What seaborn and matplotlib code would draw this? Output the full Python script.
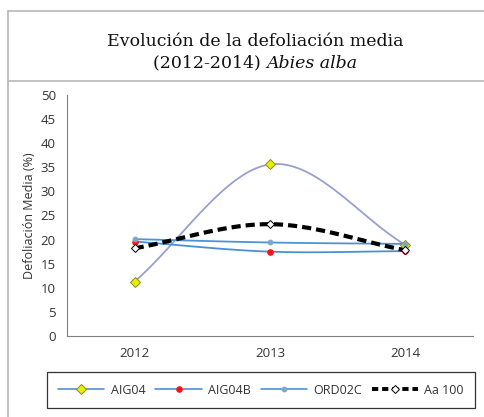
import numpy as np
import pandas as pd
import matplotlib
matplotlib.use("Agg")
import matplotlib.pyplot as plt
from matplotlib.lines import Line2D
import seaborn as sns

# Mean defoliation per plot, Abies alba
years = ["2012", "2013", "2014"]
aig04 = [11.3, 35.6, 18.9]
aig04b = [19.6, 17.5, 17.6]
ord02c = [20.1, 19.4, 19.1]
aa100 = [18.2, 23.2, 17.8]
series_names = ["AIG04", "AIG04B", "ORD02C", "Aa 100"]
y_ticks = list(range(0, 51, 5))

sns.set_style("white")
plt.rcParams["font.family"] = ["Open Sans", "DejaVu Sans"]

fig = plt.figure(figsize=(4.84, 4.17), dpi=100)
ax = fig.add_axes([67 / 484, 1 - 336 / 417, (473 - 67) / 484, (336 - 95) / 417])


def smooth(xs, ys, n=40):
    """Catmull-Rom curve through the points, like a smoothed Excel line."""
    xs = np.asarray(xs, float)
    ys = np.asarray(ys, float)
    px = np.concatenate([[2 * xs[0] - xs[1]], xs, [2 * xs[-1] - xs[-2]]])
    py = np.concatenate([[2 * ys[0] - ys[1]], ys, [2 * ys[-1] - ys[-2]]])
    ox, oy = [], []
    for i in range(1, len(px) - 2):
        t = np.linspace(0, 1, n)
        for p, out in ((px, ox), (py, oy)):
            p0, p1, p2, p3 = p[i - 1], p[i], p[i + 1], p[i + 2]
            out.extend(0.5 * ((2 * p1) + (-p0 + p2) * t
                              + (2 * p0 - 5 * p1 + 4 * p2 - p3) * t ** 2
                              + (-p0 + 3 * p1 - 3 * p2 + p3) * t ** 3))
    return np.array(ox), np.array(oy)


xpos = np.arange(len(years))
styles = {
    "AIG04": dict(vals=aig04, color="#9a9fd2", lw=1.3, ls="-", marker="D", ms=5,
                  mfc="#e8f000", mec="#8a8a20", leg_color="#5b8fd0"),
    "AIG04B": dict(vals=aig04b, color="#4a90d6", lw=1.3, ls="-", marker="o", ms=4,
                   mfc="#ff1010", mec="#ff1010", leg_color="#4a90d6"),
    "ORD02C": dict(vals=ord02c, color="#4a94d8", lw=1.3, ls="-", marker="o", ms=3.5,
                   mfc="#7fa8c8", mec="#7fa8c8", leg_color="#4a94d8"),
    "Aa 100": dict(vals=aa100, color="black", lw=3.0, ls=(0, (2.2, 1.2)), marker="D", ms=4.5,
                   mfc="white", mec="black", leg_color="black"),
}

for name in series_names:
    s = styles[name]
    sx, sy = smooth(xpos, s["vals"])
    curve = pd.DataFrame({"x": sx, "y": sy})
    sns.lineplot(data=curve, x="x", y="y", sort=False, ax=ax, color=s["color"],
                 lw=s["lw"], linestyle=s["ls"], zorder=3)
for name in series_names:
    s = styles[name]
    ax.plot(xpos, s["vals"], ls="none", marker=s["marker"], ms=s["ms"],
            mfc=s["mfc"], mec=s["mec"], mew=0.7, zorder=5)

ax.set_xlim(-0.5, 2.5)
ax.set_ylim(0, 50)
ax.set_yticks(y_ticks)
ax.set_xticks([-0.5, 0.5, 1.5, 2.5])
ax.set_xticklabels([])
ax.set_xticks(xpos, minor=True)
ax.set_xticklabels(years, minor=True)
ax.tick_params(axis="x", which="major", length=5, width=0.8, color="#808080", direction="out")
ax.tick_params(axis="x", which="minor", length=0, pad=8, labelsize=9.5, labelcolor="#333333")
ax.tick_params(axis="y", length=5, width=0.8, color="#808080", direction="out",
               labelsize=9.5, labelcolor="#333333", pad=3)
ax.set_xlabel("")
ax.set_ylabel("Defoliación Media (%)", fontsize=9, color="#333333", labelpad=3)
for side in ("top", "right"):
    ax.spines[side].set_visible(False)
for side in ("left", "bottom"):
    ax.spines[side].set_color("#808080")
    ax.spines[side].set_linewidth(0.8)
ax.patch.set_alpha(0)

# Legend along the bottom
handles = []
for name in series_names:
    s = styles[name]
    handles.append(Line2D([0], [0], color=s["leg_color"], lw=1.2 if name != "Aa 100" else 2.8,
                          linestyle="-" if name != "Aa 100" else (0, (1.6, 1.0)),
                          marker=s["marker"], ms=s["ms"], mfc=s["mfc"], mec=s["mec"], mew=0.7))
leg = fig.legend(handles, series_names, loc="center", bbox_to_anchor=(261 / 484, 1 - 390 / 417),
                 ncol=4, frameon=True, fontsize=9, handlelength=3.7, columnspacing=0.8,
                 handletextpad=0.5, borderpad=0.9, fancybox=False, labelcolor="#333333",
                 borderaxespad=0)
leg.get_frame().set_edgecolor("black")
leg.get_frame().set_linewidth(0.9)

# Title box and outer frame lines
fig.add_artist(Line2D([8 / 484, 1], [1 - 11 / 417] * 2, color="#b8b8b8", lw=1.2))
fig.add_artist(Line2D([8 / 484, 1], [1 - 81 / 417] * 2, color="#b8b8b8", lw=1.2))
fig.add_artist(Line2D([8 / 484] * 2, [0, 1 - 11 / 417], color="#b8b8b8", lw=1.2))

title_kw = dict(va="center", fontsize=12.5, color="#111111", family=["DejaVu Serif"])
fig.text(0.527, 1 - 42 / 417, "Evolución de la defoliación media", ha="center", **title_kw)
# second line: plain year range followed by the italic species name
t1 = fig.text(0.0, 1 - 63 / 417, "(2012-2014) ", ha="left", **title_kw)
t2 = fig.text(0.0, 1 - 63 / 417, "Abies alba", ha="left", style="italic", **title_kw)
renderer = fig.canvas.get_renderer()
w1 = t1.get_window_extent(renderer).width / fig.bbox.width
w2 = t2.get_window_extent(renderer).width / fig.bbox.width
x0 = 0.527 - (w1 + w2) / 2
t1.set_x(x0)
t2.set_x(x0 + w1)

fig.savefig("out.png", dpi=100)
